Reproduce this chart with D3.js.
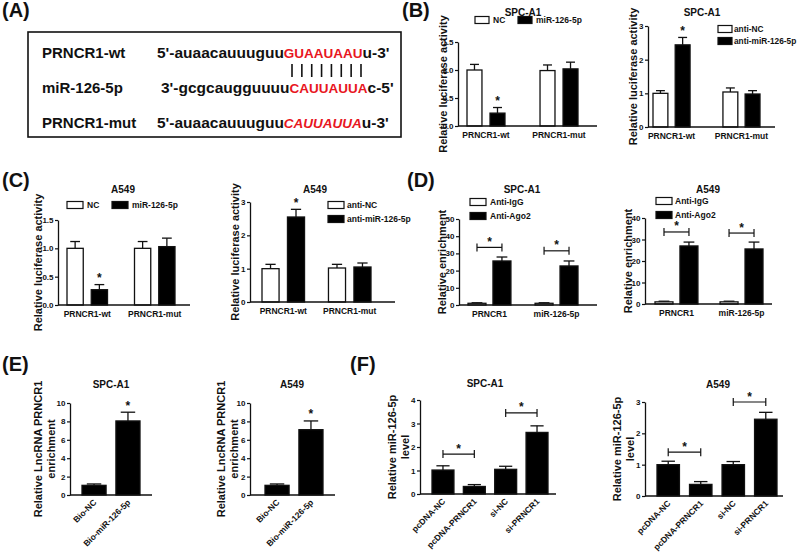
<!DOCTYPE html>
<html><head><meta charset="utf-8">
<script src="https://cdn.jsdelivr.net/npm/d3@7"></script>
<style>body{margin:0;background:#fff}svg{display:block}text{font-family:'Liberation Sans',Arial,sans-serif;font-weight:bold}</style>
</head><body><svg id="c" width="800" height="558"></svg>
<script>
// ================= DATA =================
// Panel A: sequence alignment
const seqRowLabels = ["PRNCR1-wt", "miR-126-5p", "PRNCR1-mut"];
const seqPrefix = ["5'-auaacauuuguu", "3'-gcgcaugguuuu", "5'-auaacauuuguu"];
const seqSite = ["GUAAUAAU", "CAUUAUUA", "CAUUAUUA"];
const seqSuffix = ["u-3'", "c-5'", "u-3'"];
const seqSiteItalic = [false, false, true];
const bonds = [1, 2, 3, 4, 5, 6, 7, 8];

// Panels B / C: luciferase
const lucGroups = ["PRNCR1-wt", "PRNCR1-mut"];
const mimicSeries = ["NC", "miR-126-5p"];
const inhibSeries = ["anti-NC", "anti-miR-126-5p"];
const lucTicksMimic = [0, 0.5, 1.0, 1.5];
const lucTicksInhib = [0, 1, 2, 3];
const B1mean = [[1.00, 0.23], [0.99, 1.02]];
const B1err  = [[0.10, 0.10], [0.10, 0.12]];
const B2mean = [[1.00, 2.44], [1.04, 0.98]];
const B2err  = [[0.08, 0.22], [0.12, 0.10]];
const C1mean = [[1.00, 0.27], [1.00, 1.03]];
const C1err  = [[0.12, 0.09], [0.12, 0.15]];
const C2mean = [[1.00, 2.55], [1.02, 1.05]];
const C2err  = [[0.13, 0.23], [0.11, 0.12]];

// Panel D: RIP
const ripGroups = ["PRNCR1", "miR-126-5p"];
const ripSeries = ["Anti-IgG", "Anti-Ago2"];
const D1ticks = [0, 10, 20, 30, 40, 50];
const D2ticks = [0, 10, 20, 30, 40];
const D1mean = [[1.0, 25.6], [1.0, 22.7]];
const D1err  = [[0.3, 2.3], [0.3, 2.9]];
const D2mean = [[1.0, 27.0], [1.0, 25.6]];
const D2err  = [[0.3, 1.8], [0.3, 3.2]];
const D1bracket = [33.5, 31.5];
const D2bracket = [33.5, 33.0];

// Panel E: pull-down
const pullGroups = ["Bio-NC", "Bio-miR-126-5p"];
const Eticks = [0, 2, 4, 6, 8, 10];
const E1mean = [1.05, 8.05];
const E1err  = [0.15, 0.95];
const E2mean = [1.05, 7.10];
const E2err  = [0.15, 0.95];

// Panel F: qPCR
const qGroups = ["pcDNA-NC", "pcDNA-PRNCR1", "si-NC", "si-PRNCR1"];
const F1ticks = [0, 1, 2, 3, 4];
const F2ticks = [0, 1, 2, 3];
const F1mean = [1.02, 0.32, 1.05, 2.62];
const F1err  = [0.18, 0.08, 0.13, 0.28];
const F2mean = [1.00, 0.37, 1.00, 2.45];
const F2err  = [0.11, 0.09, 0.10, 0.22];
const F1bracket = [1.7, 3.45];
const F2bracket = [1.4, 3.0];

// ================= DRAW =================
const FONT = "'Liberation Sans', Arial, sans-serif";
const INK = "#111";
const RED = "#e8161e";
const svg = d3.select("#c");

function txt(g, x, y, s, size, anchor) {
  return g.append("text").attr("x", x).attr("y", y).attr("font-size", size)
    .attr("text-anchor", anchor || "start").attr("fill", INK).text(s);
}

// Panel labels
[["(A)", 2, 17], ["(B)", 402, 17], ["(C)", 2, 187], ["(D)", 407, 187], ["(E)", 2, 371], ["(F)", 350, 371]]
  .forEach(d => txt(svg, d[1], d[2], d[0], 20));

// ---- Panel A ----
(function () {
  const g = svg.append("g");
  g.append("rect").attr("x", 28).attr("y", 32).attr("width", 373).attr("height", 105)
    .attr("fill", "none").attr("stroke", INK).attr("stroke-width", 1.6);
  const rowY = d3.scalePoint().domain(seqRowLabels).range([58, 128]);
  const prefX = [157, 161, 157];
  seqRowLabels.forEach((lab, i) => {
    const y = rowY(lab);
    txt(g, 42, y, lab, 15);
    const t = g.append("text").attr("x", prefX[i]).attr("y", y).attr("font-size", 15.5).attr("fill", INK);
    t.append("tspan").text(seqPrefix[i]);
    const st = t.append("tspan").attr("fill", RED).attr("font-size", 13.5).text(seqSite[i]);
    if (seqSiteItalic[i]) st.attr("font-style", "italic");
    t.append("tspan").text(seqSuffix[i]);
  });
  const bx = d3.scalePoint().domain(bonds).range([292, 361]);
  g.selectAll("line.bond").data(bonds).join("line")
    .attr("x1", d => bx(d)).attr("x2", d => bx(d)).attr("y1", 64).attr("y2", 77)
    .attr("stroke", INK).attr("stroke-width", 1.6);
})();

// ---- generic bar chart ----
function chart(c) {
  const g = svg.append("g");
  const y = d3.scaleLinear().domain([0, c.yMax]).range([c.y0, c.yTop]);
  const xg = d3.scaleBand().domain(c.groups).range(c.bars).paddingInner(c.padG).paddingOuter(0);
  const multi = !!c.series;
  const xs = multi ? d3.scaleBand().domain(c.series).range([0, xg.bandwidth()]).paddingInner(c.padS) : null;
  const recs = [];
  c.groups.forEach((gr, i) => {
    if (multi) c.series.forEach((s, j) => recs.push({ x: xg(gr) + xs(s), w: xs.bandwidth(), m: c.mean[i][j], e: c.err[i][j], fill: c.fills[j], gi: i, si: j }));
    else recs.push({ x: xg(gr), w: xg.bandwidth(), m: c.mean[i], e: c.err[i], fill: "#000", gi: i, si: 0 });
  });
  recs.forEach(r => {
    const cx = r.x + r.w / 2, top = y(r.m + r.e), cw = r.w * 0.6;
    g.append("line").attr("x1", cx).attr("x2", cx).attr("y1", y(r.m)).attr("y2", top).attr("stroke", INK).attr("stroke-width", 1.3);
    g.append("line").attr("x1", cx - cw / 2).attr("x2", cx + cw / 2).attr("y1", top).attr("y2", top).attr("stroke", INK).attr("stroke-width", 1.3);
  });
  g.selectAll("rect.bar").data(recs).join("rect")
    .attr("x", r => r.x).attr("y", r => y(r.m)).attr("width", r => r.w).attr("height", r => y(0) - y(r.m))
    .attr("fill", r => r.fill).attr("stroke", INK).attr("stroke-width", 1.3);
  const ax = g.append("g").attr("transform", `translate(${c.axisX},0)`)
    .call(d3.axisLeft(y).tickValues(c.ticks).tickSize(3).tickSizeOuter(0).tickFormat(c.fmt || d3.format("")));
  ax.attr("font-family", FONT).attr("font-weight", "bold");
  ax.select(".domain").attr("stroke", INK).attr("stroke-width", 1.3);
  ax.selectAll(".tick line").attr("stroke", INK).attr("stroke-width", 1.2);
  ax.selectAll(".tick text").attr("font-size", 8).attr("fill", INK).attr("x", -4.5);
  g.append("line").attr("x1", c.axisX).attr("x2", c.xEnd).attr("y1", y(0)).attr("y2", y(0))
    .attr("stroke", INK).attr("stroke-width", 1.3);
  c.groups.forEach(gr => {
    const cx = xg(gr) + xg.bandwidth() / 2;
    if (c.rotate) {
      g.append("text").attr("transform", `translate(${cx + 3},${y(0) + 8}) rotate(-45)`)
        .attr("text-anchor", "end").attr("font-size", 8.5).attr("fill", INK).text(gr);
    } else {
      txt(g, cx, y(0) + 12, gr, 8.5, "middle");
    }
  });
  txt(g, c.title[1], c.title[2], c.title[0], 10, "middle");
  const ymid = (c.y0 + c.yTop) / 2;
  c.ylab.forEach((l, i) => {
    g.append("text").attr("transform", `translate(${c.ylabX[i]},${ymid}) rotate(-90)`)
      .attr("dy", "0.35em").attr("text-anchor", "middle").attr("font-size", 11).attr("fill", INK).text(l);
  });
  (c.stars || []).forEach(k => {
    const r = recs[k];
    txt(g, r.x + r.w / 2, y(r.m + r.e) - 2.5, "*", 12, "middle");
  });
  (c.brackets || []).forEach(b => {
    const a = recs[b.a], z = recs[b.b];
    const x1 = a.x + a.w / 2, x2 = z.x + z.w / 2, by = y(b.v);
    g.append("line").attr("x1", x1).attr("x2", x2).attr("y1", by).attr("y2", by).attr("stroke", INK).attr("stroke-width", 1.2);
    [x1, x2].forEach(xx => g.append("line").attr("x1", xx).attr("x2", xx).attr("y1", by - 4).attr("y2", by + 4).attr("stroke", INK).attr("stroke-width", 1.2));
    txt(g, (x1 + x2) / 2, by - 1.5, "*", 12, "middle");
  });
  if (c.legend) {
    c.series.forEach((s, j) => {
      const p = c.legend.pos[j];
      g.append("rect").attr("x", p[0]).attr("y", p[1] - 3.5).attr("width", c.legend.bw).attr("height", 7)
        .attr("fill", c.fills[j]).attr("stroke", INK).attr("stroke-width", 1.2);
      txt(g, p[0] + c.legend.dx, p[1] + 3, s, c.legend.fs || 8.5);
    });
  }
}

const WB = ["#fff", "#000"];
const f1 = d3.format(".1f");
const lucLab = ["Relative luciferase activity"];

chart({ groups: lucGroups, series: mimicSeries, mean: B1mean, err: B1err, fills: WB,
  yMax: 1.5, y0: 126, yTop: 42, ticks: lucTicksMimic, fmt: f1, axisX: 458, xEnd: 597,
  bars: [467, 578], padG: 0.48, padS: 0.35, title: ["SPC-A1", 523, 16],
  ylab: lucLab, ylabX: [443], stars: [1],
  legend: { pos: [[475, 20], [518, 20]], bw: 14, dx: 18 } });
chart({ groups: lucGroups, series: inhibSeries, mean: B2mean, err: B2err, fills: WB,
  yMax: 3, y0: 127, yTop: 26, ticks: lucTicksInhib, axisX: 648, xEnd: 775,
  bars: [653, 760], padG: 0.47, padS: 0.33, title: ["SPC-A1", 702, 16],
  ylab: lucLab, ylabX: [633], stars: [1],
  legend: { pos: [[718, 29], [718, 41]], bw: 14, dx: 16, fs: 8.3 } });
chart({ groups: lucGroups, series: mimicSeries, mean: C1mean, err: C1err, fills: WB,
  yMax: 1.5, y0: 305, yTop: 220, ticks: lucTicksMimic, fmt: f1, axisX: 58, xEnd: 190,
  bars: [67, 175], padG: 0.40, padS: 0.33, title: ["A549", 123, 193],
  ylab: lucLab, ylabX: [38], stars: [1],
  legend: { pos: [[67, 205], [112, 205]], bw: 16, dx: 20 } });
chart({ groups: lucGroups, series: inhibSeries, mean: C2mean, err: C2err, fills: WB,
  yMax: 3, y0: 302, yTop: 202, ticks: lucTicksInhib, axisX: 250, xEnd: 395,
  bars: [262, 371], padG: 0.36, padS: 0.33, title: ["A549", 315, 193],
  ylab: lucLab, ylabX: [235], stars: [1],
  legend: { pos: [[328, 205], [328, 219]], bw: 16, dx: 19 } });
chart({ groups: ripGroups, series: ripSeries, mean: D1mean, err: D1err, fills: WB,
  yMax: 50, y0: 305, yTop: 219, ticks: D1ticks, axisX: 459, xEnd: 597,
  bars: [468, 578], padG: 0.36, padS: 0.28, title: ["SPC-A1", 522, 193],
  ylab: ["Relative enrichment"], ylabX: [442],
  brackets: [{ a: 0, b: 1, v: D1bracket[0] }, { a: 2, b: 3, v: D1bracket[1] }],
  legend: { pos: [[470, 202], [470, 216]], bw: 16, dx: 20 } });
chart({ groups: ripGroups, series: ripSeries, mean: D2mean, err: D2err, fills: WB,
  yMax: 40, y0: 304, yTop: 218, ticks: D2ticks, axisX: 645, xEnd: 772,
  bars: [655, 763], padG: 0.34, padS: 0.28, title: ["A549", 708, 193],
  ylab: ["Relative enrichment"], ylabX: [628],
  brackets: [{ a: 0, b: 1, v: D2bracket[0] }, { a: 2, b: 3, v: D2bracket[1] }],
  legend: { pos: [[656, 201], [656, 215]], bw: 16, dx: 19 } });
chart({ groups: pullGroups, mean: E1mean, err: E1err,
  yMax: 10, y0: 495, yTop: 403, ticks: Eticks, axisX: 70, xEnd: 152,
  bars: [82, 140], padG: 0.29, title: ["SPC-A1", 111, 388], rotate: true,
  ylab: ["Relative LncRNA PRNCR1", "enrichment"], ylabX: [38, 51], stars: [1] });
chart({ groups: pullGroups, mean: E2mean, err: E2err,
  yMax: 10, y0: 495, yTop: 403, ticks: Eticks, axisX: 250, xEnd: 335,
  bars: [265, 323], padG: 0.29, title: ["A549", 292, 388], rotate: true,
  ylab: ["Relative LncRNA PRNCR1", "enrichment"], ylabX: [221, 234], stars: [1] });
chart({ groups: qGroups, mean: F1mean, err: F1err,
  yMax: 4, y0: 494, yTop: 400, ticks: F1ticks, axisX: 420, xEnd: 556,
  bars: [432, 548], padG: 0.30, title: ["SPC-A1", 485, 387], rotate: true,
  ylab: ["Relative miR-126-5p", "level"], ylabX: [392, 405],
  brackets: [{ a: 0, b: 1, v: F1bracket[0] }, { a: 2, b: 3, v: F1bracket[1] }] });
chart({ groups: qGroups, mean: F2mean, err: F2err,
  yMax: 3, y0: 496, yTop: 402, ticks: F2ticks, axisX: 645, xEnd: 783,
  bars: [657, 777], padG: 0.31, title: ["A549", 718, 388], rotate: true,
  ylab: ["Relative miR-126-5p", "level"], ylabX: [617, 630],
  brackets: [{ a: 0, b: 1, v: F2bracket[0] }, { a: 2, b: 3, v: F2bracket[1] }] });
</script></body></html>
